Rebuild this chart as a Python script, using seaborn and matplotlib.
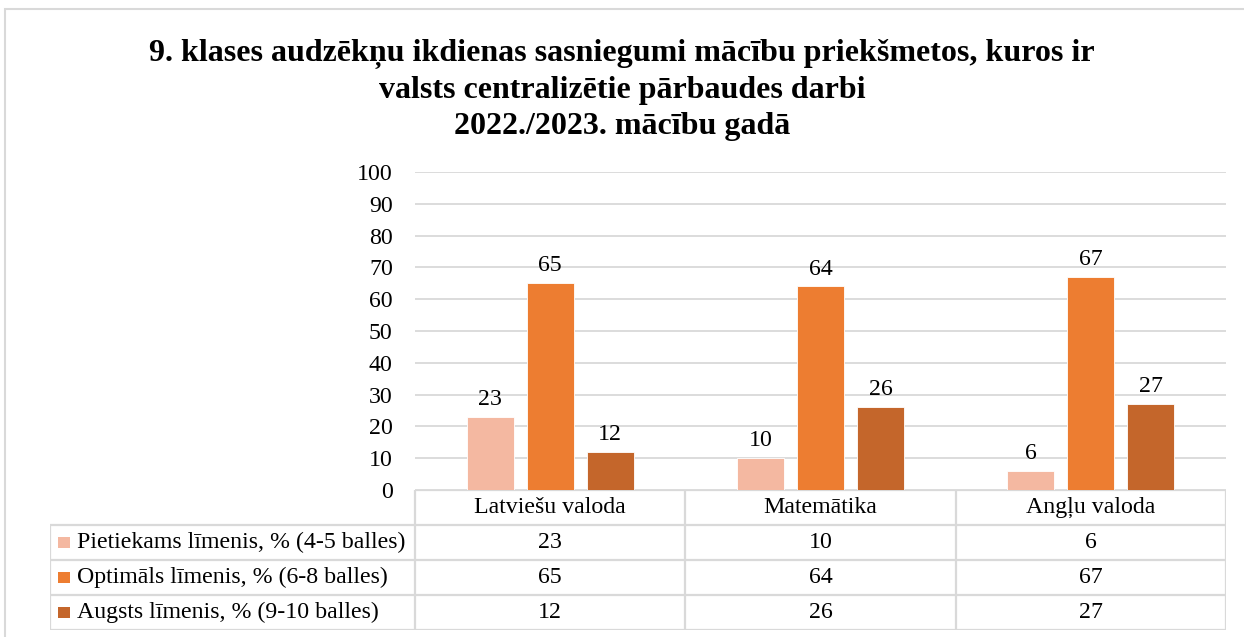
import pandas as pd
import matplotlib.pyplot as plt
import seaborn as sns
from matplotlib.patches import Rectangle

# Data
categories = ["Latviešu valoda", "Matemātika", "Angļu valoda"]
levels = ["Pietiekams līmenis, % (4-5 balles)",
          "Optimāls līmenis, % (6-8 balles)",
          "Augsts līmenis, % (9-10 balles)"]
pietiekams = [23, 10, 6]
optimals = [65, 64, 67]
augsts = [12, 26, 27]
colors = ["#F4B8A1", "#ED7D31", "#C4662B"]
title = ("9. klases audzēkņu ikdienas sasniegumi mācību priekšmetos, kuros ir\n"
         "valsts centralizētie pārbaudes darbi\n"
         "2022./2023. mācību gadā")

series = [pietiekams, optimals, augsts]
rows = []
for lev, vals in zip(levels, series):
    for cat, v in zip(categories, vals):
        rows.append({"kategorija": cat, "līmenis": lev, "vērtība": v})
df = pd.DataFrame(rows)

sns.set_style("white")
plt.rcParams["font.family"] = ["Liberation Serif", "DejaVu Serif"]
plt.rcParams["text.color"] = "black"
plt.rcParams["ytick.color"] = "black"
grid_c = "#D9D9D9"
fs = 17.2

fig = plt.figure(figsize=(12.44, 6.37), dpi=100)

# main bar chart
ax = fig.add_axes([415 / 1244, 1 - 490 / 637, 811 / 1244, 318 / 637])
sns.barplot(data=df, x="kategorija", y="vērtība", hue="līmenis", palette=colors,
            width=0.667, gap=0.22, saturation=1, legend=False, ax=ax,
            edgecolor="white", linewidth=0.6)
for cont in ax.containers:
    ax.bar_label(cont, fmt="%d", padding=5, fontsize=fs)
ax.set_ylim(0, 100)
ax.set_xlim(-0.5, 2.5)
ax.set_yticks(range(0, 101, 10))
ax.yaxis.grid(True, color=grid_c, linewidth=1.3)
ax.set_axisbelow(True)
ax.tick_params(axis="y", length=0, pad=16, labelsize=fs)
ax.set_xticks([])
ax.set_xlabel("")
ax.set_ylabel("")
sns.despine(ax=ax, left=True, bottom=True)

# data table below
tab = fig.add_axes([50 / 1244, 7 / 637, 1176 / 1244, 140 / 637])
left = -0.5 - 365 / (811 / 3)
tab.set_xlim(left, 2.5)
tab.set_ylim(4, 0)
tab.axis("off")
tab.hlines(0, -0.5, 2.5, color=grid_c, lw=1.6)
tab.hlines([1, 2, 3, 4], left, 2.5, color=grid_c, lw=1.6)
tab.vlines(left, 1, 4, color=grid_c, lw=1.6)
tab.vlines([-0.5, 0.5, 1.5, 2.5], 0, 4, color=grid_c, lw=1.6)
for i, cat in enumerate(categories):
    tab.text(i, 0.5, cat, ha="center", va="center", fontsize=fs)
for r, (lev, vals, col) in enumerate(zip(levels, series, colors), start=1):
    tab.add_patch(Rectangle((left + 0.03, r + 0.33), 0.044, 0.34, color=col, lw=0))
    tab.text(left + 0.1, r + 0.5, lev, ha="left", va="center", fontsize=fs)
    for i, v in enumerate(vals):
        tab.text(i, r + 0.5, str(v), ha="center", va="center", fontsize=fs)

fig.text(0.5, 1 - 90 / 637, title, ha="center", va="center", fontsize=23,
         fontweight="bold", linespacing=1.33)

# chart border
fig.add_artist(Rectangle((5 / 1244, -0.05), 1.1, 1 - 9 / 637 + 0.05,
                         transform=fig.transFigure, fill=False, ec=grid_c, lw=1.5))

plt.savefig("out.png", dpi=100)
